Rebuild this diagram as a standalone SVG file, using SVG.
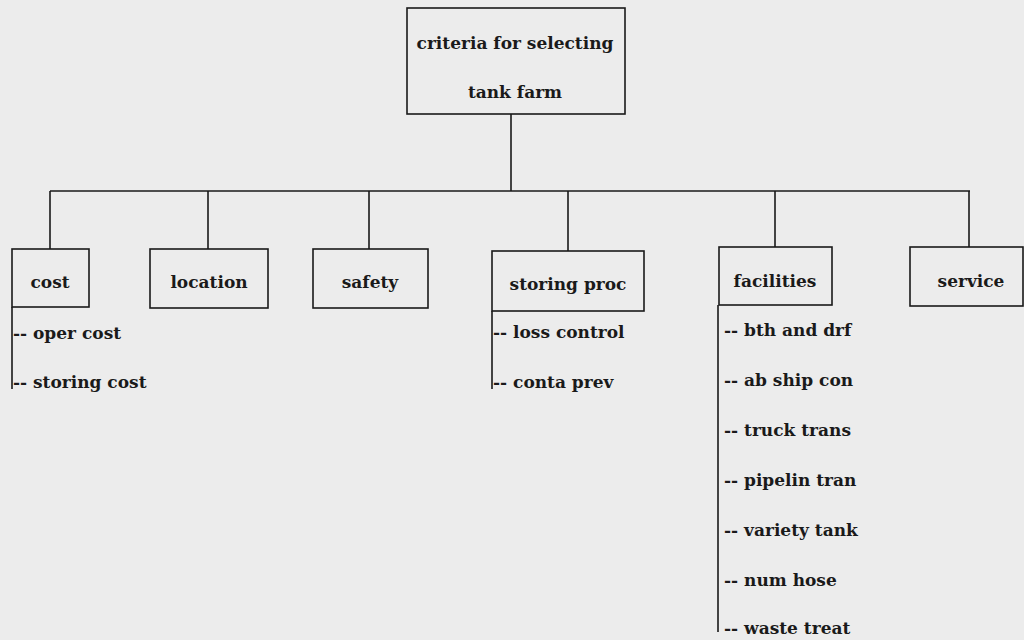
<svg xmlns="http://www.w3.org/2000/svg" width="1024" height="640" viewBox="0 0 1024 640">
<style>
.bg{fill:#ececec}
.box{fill:none;stroke:#1a1a1a;stroke-width:1.6}
.ln{fill:none;stroke:#1a1a1a;stroke-width:1.6}
text{font-family:"DejaVu Serif","Liberation Serif",serif;font-weight:bold;font-size:17px;fill:#1a1a1a}
.c{text-anchor:middle}
</style>
<rect class="bg" x="0" y="0" width="1024" height="640"/>
<g id="connectors">
<path class="ln" d="M511,114 V191 M50,191 H970 M50,191 V249 M208,191 V249 M369,191 V249 M568,191 V251 M775,191 V247 M969,191 V247"/>
<path class="ln" d="M12,307 V389 M492,311 V389 M718,305 V632"/>
</g>
<g id="root">
<rect class="box" x="407" y="8" width="218" height="106"/>
<text class="c" x="515" y="49">criteria for selecting</text>
<text class="c" x="515" y="98">tank farm</text>
</g>
<g id="cost">
<rect class="box" x="12" y="249" width="77" height="58"/>
<text class="c" x="50" y="288">cost</text>
<text x="13" y="339">-- oper cost</text>
<text x="13" y="388">-- storing cost</text>
</g>
<g id="location">
<rect class="box" x="150" y="249" width="118" height="59"/>
<text class="c" x="209" y="288">location</text>
</g>
<g id="safety">
<rect class="box" x="313" y="249" width="115" height="59"/>
<text class="c" x="370" y="288">safety</text>
</g>
<g id="storing-proc">
<rect class="box" x="492" y="251" width="152" height="60"/>
<text class="c" x="568" y="290">storing proc</text>
<text x="493" y="338">-- loss control</text>
<text x="493" y="388">-- conta prev</text>
</g>
<g id="facilities">
<rect class="box" x="719" y="247" width="113" height="58"/>
<text class="c" x="775" y="287">facilities</text>
<text x="724" y="336">-- bth and drf</text>
<text x="724" y="386">-- ab ship con</text>
<text x="724" y="436">-- truck trans</text>
<text x="724" y="486">-- pipelin tran</text>
<text x="724" y="536">-- variety tank</text>
<text x="724" y="586">-- num hose</text>
<text x="724" y="634">-- waste treat</text>
</g>
<g id="service">
<rect class="box" x="910" y="247" width="113" height="59"/>
<text class="c" x="971" y="287">service</text>
</g>
</svg>
